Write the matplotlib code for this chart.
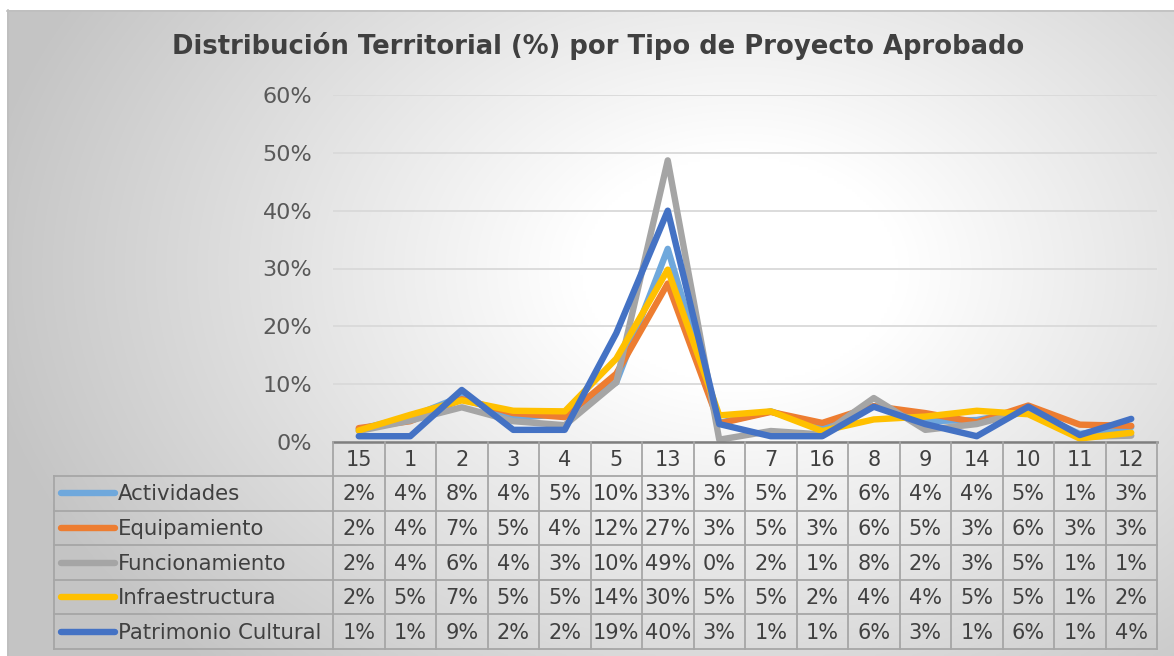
import numpy as np
import matplotlib.pyplot as plt

# categories (territorial units) in the order shown
categorias = ['15', '1', '2', '3', '4', '5', '13', '6', '7', '16', '8', '9', '14', '10', '11', '12']

series = ['Actividades', 'Equipamiento', 'Funcionamiento', 'Infraestructura', 'Patrimonio Cultural']

# values in %
actividades = [2.2, 4.3, 7.9, 4.1, 4.9, 10.3, 33.4, 3.3, 5.3, 2.4, 6.2, 3.6, 3.8, 5.4, 1.4, 2.6]
equipamiento = [2.4, 3.6, 7.4, 5.0, 4.3, 11.8, 27.4, 3.2, 5.2, 3.3, 6.2, 5.0, 3.4, 6.3, 3.0, 2.8]
funcionamiento = [1.9, 3.7, 6.0, 3.6, 2.9, 10.3, 48.7, 0.4, 1.9, 1.3, 7.6, 2.1, 3.1, 5.4, 0.9, 1.1]
infraestructura = [2.0, 4.7, 7.2, 5.4, 5.3, 14.4, 29.8, 4.6, 5.3, 1.9, 3.9, 4.4, 5.4, 4.8, 0.6, 1.6]
patrimonio = [1.0, 1.0, 9.0, 2.1, 2.1, 18.8, 40.0, 3.1, 1.0, 1.0, 6.1, 3.1, 1.0, 6.1, 1.2, 4.0]

valores = [actividades, equipamiento, funcionamiento, infraestructura, patrimonio]
colores = ['#6FA8DC', '#ED7D31', '#A5A5A5', '#FFC000', '#4472C4']

titulo = 'Distribución Territorial (%) por Tipo de Proyecto Aprobado'

W, H = 1174, 656
fig = plt.figure(figsize=(W / 100, H / 100), dpi=100)

# background with radial gradient
bg = fig.add_axes([0, 0, 1, 1], zorder=0)
bg.set_xlim(0, W)
bg.set_ylim(H, 0)
bg.axis('off')
xx, yy = np.meshgrid(np.linspace(7, W, 400), np.linspace(10, H, 240))
d = np.sqrt(((xx - 740) / 640) ** 2 + ((yy - 270) / 460) ** 2)
g = 1 - 0.23 * np.clip((d - 0.25) / 0.95, 0, 1)
bg.imshow(np.dstack([g, g, g]), extent=[7, W, H, 10], aspect='auto', interpolation='bilinear')
bg.plot([7, W], [10.5, 10.5], color='#BFBFBF', lw=1.2)
bg.plot([7.5, 7.5], [10, H], color='#BFBFBF', lw=1.2)

# plot area
x0, x1, ytop, ybot = 333, 1157, 95, 442
ax = fig.add_axes([x0 / W, 1 - ybot / H, (x1 - x0) / W, (ybot - ytop) / H], zorder=2)
ax.patch.set_alpha(0)
xs = np.arange(len(categorias))
for nombre, vals, c in zip(series, valores, colores):
    ax.plot(xs, np.array(vals) / 100, color=c, lw=4.6, solid_capstyle='round',
            solid_joinstyle='round', label=nombre)
ax.set_xlim(-0.5, len(categorias) - 0.5)
ax.set_ylim(0, 0.6)
ax.set_yticks(np.arange(0, 0.61, 0.1))
ax.set_yticklabels(['{:.0f}%'.format(t * 100) for t in np.arange(0, 0.61, 0.1)])
ax.grid(axis='y', color='#D9D9D9', lw=1.3)
ax.set_axisbelow(True)
ax.set_xticks([])
ax.tick_params(axis='y', length=0, pad=15, labelsize=16, labelcolor='#595959')
for s in ['top', 'right', 'left']:
    ax.spines[s].set_visible(False)
ax.spines['bottom'].set_color('#7F7F7F')
ax.spines['bottom'].set_linewidth(1.8)

fig.text(598 / W, 1 - 46 / H, titulo, ha='center', va='center', fontsize=18.6,
         fontweight='bold', color='#404040')

# data table
tab = fig.add_axes([0, 0, 1, 1], zorder=3)
tab.set_xlim(0, W)
tab.set_ylim(H, 0)
tab.axis('off')
colw = (x1 - x0) / len(categorias)
legx = 54
rows = [476 + 34.6 * i for i in range(6)]
lc = '#A6A6A6'
lwt = 1.3
for i in range(len(categorias) + 1):
    tab.plot([x0 + i * colw] * 2, [ybot, rows[-1]], color=lc, lw=lwt)
for y in rows:
    tab.plot([legx, x1], [y, y], color=lc, lw=lwt)
tab.plot([legx, legx], [rows[0], rows[-1]], color=lc, lw=lwt)
for i, cat in enumerate(categorias):
    tab.text(x0 + (i + 0.5) * colw, (ybot + rows[0]) / 2 + 1, cat, ha='center', va='center',
             fontsize=15, color='#404040')
for r, (nombre, vals, c) in enumerate(zip(series, valores, colores)):
    yc = (rows[r] + rows[r + 1]) / 2 + 1
    tab.plot([61, 115], [yc - 1, yc - 1], color=c, lw=4.6, solid_capstyle='round')
    tab.text(118, yc, nombre, ha='left', va='center', fontsize=15.3, color='#404040')
    for i, v in enumerate(vals):
        tab.text(x0 + (i + 0.5) * colw, yc, '{:.0f}%'.format(round(v)), ha='center',
                 va='center', fontsize=15, color='#404040')

fig.savefig('out.png', dpi=100)
